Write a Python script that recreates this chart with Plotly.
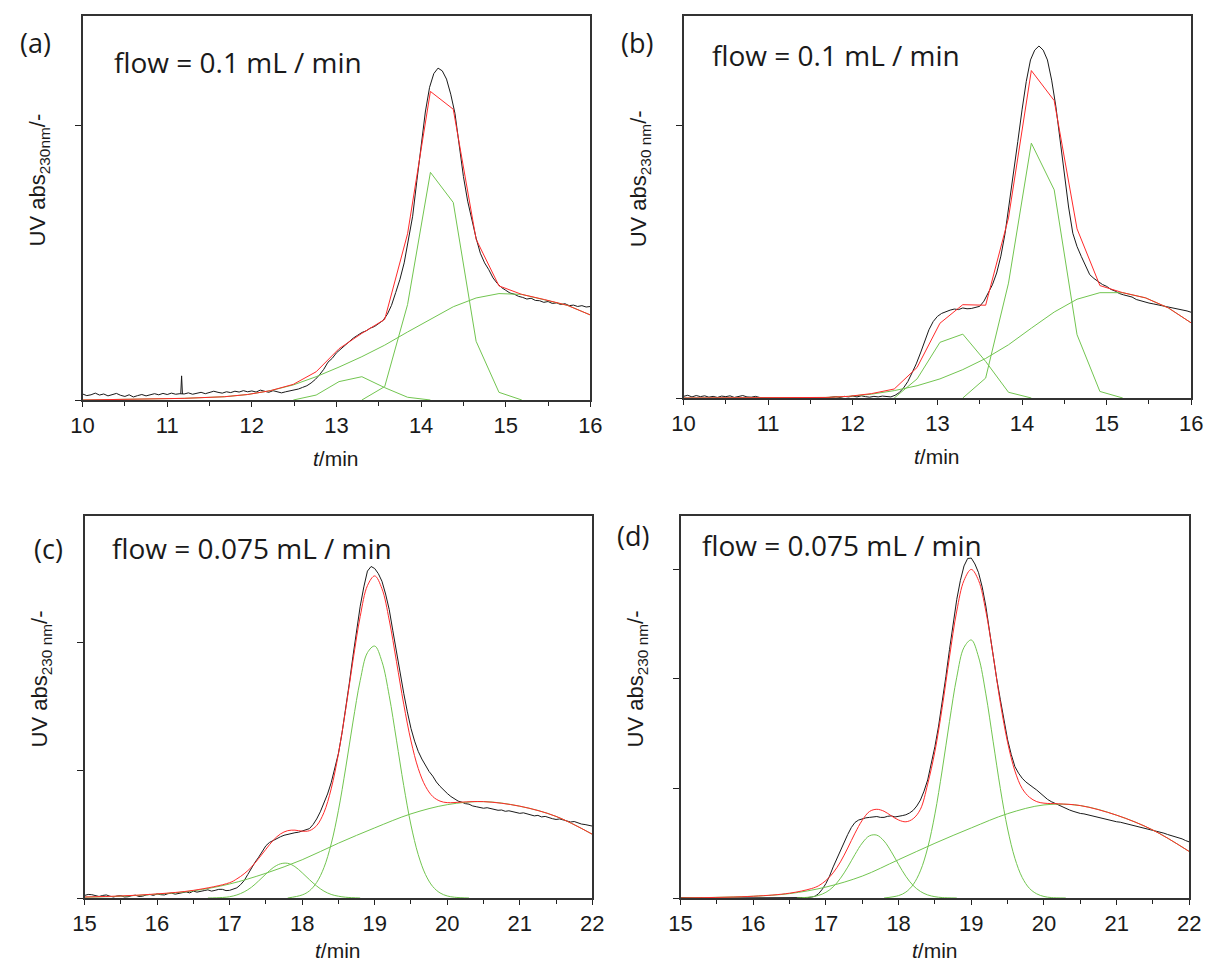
import plotly.graph_objects as go

# ---------------- Panel (a): flow 0.1 mL/min ----------------
a_black_t = [round(10.0 + 0.05 * i, 2) for i in range(121)]
a_black_y = [0.022, 0.016, 0.019, 0.025, 0.018, 0.022, 0.015, 0.020, 0.024, 0.017,
             0.013, 0.019, 0.011, 0.016, 0.020, 0.015, 0.018, 0.023, 0.019, 0.024,
             0.020, 0.025, 0.021, 0.023, 0.022, 0.026, 0.021, 0.025, 0.028, 0.023,
             0.027, 0.032, 0.028, 0.025, 0.030, 0.027, 0.032, 0.029, 0.034, 0.030,
             0.033, 0.029, 0.036, 0.032, 0.028, 0.034, 0.031, 0.026, 0.030, 0.033,
             0.036, 0.040, 0.046, 0.052, 0.062, 0.075, 0.092, 0.112, 0.138, 0.152,
             0.172, 0.185, 0.200, 0.214, 0.226, 0.236, 0.246, 0.252, 0.262, 0.268,
             0.278, 0.290, 0.312, 0.345, 0.392, 0.440, 0.500, 0.578, 0.670, 0.800,
             0.935, 1.050, 1.140, 1.190, 1.210, 1.200, 1.170, 1.115, 1.045, 0.935,
             0.815, 0.725, 0.655, 0.590, 0.535, 0.500, 0.475, 0.445, 0.425, 0.410,
             0.400, 0.390, 0.386, 0.378, 0.374, 0.368, 0.371, 0.363, 0.362, 0.356,
             0.359, 0.352, 0.354, 0.348, 0.351, 0.344, 0.346, 0.341, 0.344, 0.339,
             0.341]
a_spike_t = [11.16, 11.17, 11.18]
a_spike_y = [0.023, 0.088, 0.022]
a_grid_t = [10.0, 10.6, 11.2, 11.68, 11.95, 12.22, 12.49, 12.76, 13.03, 13.30, 13.57, 13.84, 14.11, 14.38,
            14.65, 14.92, 15.19, 15.46, 15.73, 16.0]
a_broad_y = [0.0, 0.002, 0.006, 0.012, 0.020, 0.034, 0.055, 0.085, 0.120, 0.158, 0.200, 0.248, 0.295, 0.340,
             0.372, 0.388, 0.385, 0.366, 0.345, 0.310]
a_fit_y = [0.0, 0.002, 0.006, 0.012, 0.020, 0.034, 0.057, 0.103, 0.187, 0.243, 0.294, 0.606, 1.125, 1.060,
           0.586, 0.416, 0.385, 0.366, 0.345, 0.310]
a_small_t = [12.49, 12.76, 13.03, 13.30, 13.57, 13.84, 14.11]
a_small_y = [0.0, 0.018, 0.067, 0.085, 0.045, 0.010, 0.0]
a_main_t = [13.30, 13.57, 13.84, 14.11, 14.38, 14.65, 14.92, 15.19]
a_main_y = [0.0, 0.049, 0.348, 0.830, 0.720, 0.214, 0.028, 0.0]

# ---------------- Panel (b): flow 0.1 mL/min ----------------
b_black_t = [round(10.0 + 0.05 * i, 2) for i in range(121)]
b_black_y = [0.006, 0.010, 0.004, 0.009, 0.005, 0.008, 0.003, 0.006, 0.002, 0.007,
             0.005, 0.008, 0.002, 0.006, 0.009, 0.004, 0.003, 0.006, 0.002, 0.001,
             0.000, 0.000, 0.000, 0.000, 0.000, 0.000, 0.000, 0.000, 0.000, 0.000,
             0.000, 0.000, 0.000, 0.000, 0.001, 0.003, 0.005, 0.002, 0.006, 0.004,
             0.007, 0.004, 0.008, 0.005, 0.003, 0.006, 0.004, 0.007, 0.005, 0.004,
             0.010, 0.020, 0.037, 0.060, 0.092, 0.125, 0.165, 0.210, 0.250, 0.280,
             0.299, 0.310, 0.317, 0.322, 0.326, 0.324, 0.330, 0.327, 0.328, 0.331,
             0.336, 0.355, 0.385, 0.415, 0.458, 0.520, 0.604, 0.710, 0.824, 0.940,
             1.056, 1.160, 1.239, 1.275, 1.290, 1.275, 1.239, 1.165, 1.068, 0.945,
             0.812, 0.700, 0.604, 0.555, 0.519, 0.482, 0.452, 0.438, 0.427, 0.416,
             0.409, 0.398, 0.392, 0.383, 0.378, 0.374, 0.370, 0.361, 0.356, 0.353,
             0.348, 0.345, 0.342, 0.338, 0.336, 0.333, 0.330, 0.325, 0.322, 0.319,
             0.314]
b_grid_t = [10.0, 11.2, 11.68, 11.95, 12.22, 12.49, 12.76, 13.03, 13.30, 13.57, 13.84, 14.11, 14.38,
            14.65, 14.92, 15.19, 15.46, 15.73, 16.0]
b_broad_y = [0.0, 0.0, 0.002, 0.006, 0.014, 0.027, 0.045, 0.070, 0.104, 0.145, 0.195, 0.256, 0.315,
             0.362, 0.386, 0.386, 0.367, 0.330, 0.275]
b_fit_y = [0.0, 0.0, 0.002, 0.006, 0.016, 0.033, 0.112, 0.274, 0.342, 0.340, 0.660, 1.200, 1.090,
           0.620, 0.412, 0.386, 0.367, 0.330, 0.275]
b_small_t = [12.49, 12.76, 13.03, 13.30, 13.57, 13.84, 14.11]
b_small_y = [0.0, 0.070, 0.204, 0.234, 0.134, 0.021, 0.0]
b_main_t = [13.30, 13.57, 13.84, 14.11, 14.38, 14.65, 14.92, 15.19]
b_main_y = [0.0, 0.073, 0.421, 0.934, 0.763, 0.232, 0.024, 0.0]

# ---------------- Panel (c): flow 0.075 mL/min ----------------
c_black_t = [round(15.0 + 0.05 * i, 2) for i in range(141)]
c_black_y = [0.010, 0.014, 0.013, 0.008, 0.006, 0.010, 0.012, 0.007, 0.004, 0.008,
             0.009, 0.004, 0.005, 0.009, 0.011, 0.006, 0.007, 0.012, 0.014, 0.010,
             0.016, 0.013, 0.012, 0.017, 0.019, 0.015, 0.018, 0.022, 0.024, 0.020,
             0.027, 0.023, 0.025, 0.029, 0.032, 0.027, 0.030, 0.034, 0.034, 0.029,
             0.030, 0.034, 0.040, 0.052, 0.068, 0.092, 0.118, 0.140, 0.160, 0.185,
             0.205, 0.218, 0.226, 0.234, 0.240, 0.246, 0.250, 0.252, 0.256, 0.258,
             0.262, 0.265, 0.272, 0.288, 0.310, 0.338, 0.370, 0.408, 0.452, 0.505,
             0.567, 0.648, 0.738, 0.842, 0.948, 1.050, 1.144, 1.220, 1.282, 1.300,
             1.292, 1.272, 1.242, 1.192, 1.131, 1.048, 0.961, 0.880, 0.803, 0.730,
             0.665, 0.615, 0.575, 0.545, 0.518, 0.496, 0.478, 0.455, 0.438, 0.422,
             0.410, 0.398, 0.390, 0.380, 0.376, 0.370, 0.368, 0.361, 0.358, 0.355,
             0.352, 0.354, 0.350, 0.346, 0.344, 0.345, 0.340, 0.342, 0.338, 0.335,
             0.332, 0.334, 0.330, 0.326, 0.322, 0.324, 0.318, 0.320, 0.314, 0.311,
             0.308, 0.310, 0.306, 0.301, 0.298, 0.300, 0.294, 0.290, 0.288, 0.285,
             0.282]
c_broad_t = [15.0, 15.5, 16.0, 16.5, 17.0, 17.5, 18.0, 18.5, 19.0, 19.5, 20.0, 20.5, 21.0, 21.5, 22.0]
c_broad_y = [0.003, 0.007, 0.015, 0.028, 0.055, 0.097, 0.150, 0.215, 0.275, 0.330, 0.366, 0.378, 0.360, 0.320, 0.250]
c_small_t = [16.7, 16.9, 17.0, 17.1, 17.2, 17.3, 17.4, 17.5, 17.6, 17.7, 17.8, 17.9, 18.0, 18.1,
             18.2, 18.3, 18.4, 18.5, 18.6, 18.8]
c_small_y = [0.0, 0.002, 0.005, 0.012, 0.024, 0.042, 0.067, 0.094, 0.119, 0.134, 0.136, 0.123, 0.099, 0.072,
             0.047, 0.027, 0.014, 0.007, 0.003, 0.0]
c_main_t = [17.8, 18.0, 18.1, 18.2, 18.3, 18.4, 18.5, 18.6, 18.7, 18.8, 18.9, 19.0, 19.1, 19.2, 19.3,
            19.4, 19.5, 19.6, 19.7, 19.8, 19.9, 20.0, 20.1, 20.3]
c_main_y = [0.0, 0.012, 0.028, 0.061, 0.119, 0.212, 0.344, 0.510, 0.690, 0.853, 0.962, 0.988, 0.927, 0.793, 0.619,
            0.441, 0.286, 0.170, 0.092, 0.045, 0.020, 0.008, 0.003, 0.0]
c_fit_t = [15.0, 15.5, 16.0, 16.5, 17.0, 17.1, 17.2, 17.3, 17.4, 17.5, 17.6, 17.7, 17.8, 17.9, 18.0,
           18.1, 18.2, 18.3, 18.4, 18.5, 18.6, 18.7, 18.8, 18.9, 19.0, 19.1, 19.2, 19.3, 19.4, 19.5,
           19.6, 19.7, 19.8, 19.9, 20.0, 20.2, 20.5, 21.0, 21.5, 22.0]
c_fit_y = [0.004, 0.008, 0.016, 0.030, 0.060, 0.075, 0.095, 0.121, 0.155, 0.191, 0.226, 0.251, 0.264, 0.266, 0.262,
           0.264, 0.284, 0.335, 0.428, 0.566, 0.740, 0.930, 1.104, 1.225, 1.263, 1.213, 1.090, 0.927, 0.760, 0.616,
           0.508, 0.438, 0.398, 0.380, 0.374, 0.376, 0.378, 0.360, 0.320, 0.250]

# ---------------- Panel (d): flow 0.075 mL/min ----------------
d_black_t = [round(15.0 + 0.05 * i, 2) for i in range(141)]
d_black_y = [0.002, 0.001, 0.003, 0.002, 0.001, 0.002, 0.003, 0.001, 0.002, 0.000,
             0.000, 0.002, 0.002, 0.001, 0.003, 0.001, 0.001, 0.002, 0.003, 0.001,
             0.002, 0.001, 0.001, 0.002, 0.002, 0.000, 0.000, 0.001, 0.003, 0.002,
             0.001, 0.002, 0.002, 0.001, 0.000, 0.002, 0.004, 0.008, 0.020, 0.040,
             0.066, 0.100, 0.142, 0.180, 0.218, 0.255, 0.290, 0.322, 0.345, 0.356,
             0.362, 0.366, 0.368, 0.371, 0.372, 0.368, 0.368, 0.373, 0.375, 0.370,
             0.372, 0.376, 0.380, 0.388, 0.400, 0.420, 0.447, 0.488, 0.539, 0.610,
             0.692, 0.785, 0.890, 1.010, 1.134, 1.250, 1.363, 1.450, 1.516, 1.550,
             1.552, 1.525, 1.485, 1.420, 1.333, 1.220, 1.104, 1.000, 0.905, 0.810,
             0.722, 0.655, 0.600, 0.570, 0.547, 0.530, 0.516, 0.505, 0.493, 0.478,
             0.463, 0.450, 0.440, 0.432, 0.424, 0.417, 0.410, 0.402, 0.396, 0.390,
             0.386, 0.384, 0.380, 0.374, 0.370, 0.366, 0.362, 0.359, 0.354, 0.352,
             0.348, 0.346, 0.342, 0.337, 0.334, 0.331, 0.326, 0.322, 0.318, 0.315,
             0.310, 0.306, 0.302, 0.296, 0.290, 0.285, 0.280, 0.276, 0.270, 0.262,
             0.256]
d_broad_t = [15.0, 15.5, 16.0, 16.5, 17.0, 17.5, 18.0, 18.5, 19.0, 19.5, 20.0, 20.5, 21.0, 21.5, 22.0]
d_broad_y = [0.0, 0.003, 0.008, 0.020, 0.050, 0.100, 0.175, 0.250, 0.320, 0.385, 0.425, 0.422, 0.378, 0.310, 0.212]
d_small_t = [16.6, 16.8, 16.9, 17.0, 17.1, 17.2, 17.3, 17.4, 17.5, 17.6, 17.7, 17.8, 17.9, 18.0, 18.1,
             18.2, 18.3, 18.4, 18.5, 18.6, 18.8]
d_small_y = [0.0, 0.005, 0.012, 0.026, 0.051, 0.090, 0.141, 0.199, 0.251, 0.284, 0.287, 0.260, 0.211, 0.153, 0.099,
             0.057, 0.030, 0.014, 0.006, 0.002, 0.0]
d_main_t = [17.8, 18.0, 18.1, 18.2, 18.3, 18.4, 18.5, 18.6, 18.7, 18.8, 18.9, 19.0, 19.1, 19.2, 19.3,
            19.4, 19.5, 19.6, 19.7, 19.8, 19.9, 20.0, 20.1, 20.3]
d_main_y = [0.0, 0.011, 0.027, 0.061, 0.124, 0.229, 0.384, 0.584, 0.805, 1.008, 1.144, 1.178, 1.100, 0.932, 0.716,
            0.499, 0.315, 0.181, 0.094, 0.044, 0.019, 0.007, 0.002, 0.0]
d_fit_t = [15.0, 16.0, 16.5, 16.8, 16.9, 17.0, 17.1, 17.2, 17.3, 17.4, 17.5, 17.6, 17.7, 17.8, 17.9,
           18.0, 18.1, 18.2, 18.3, 18.4, 18.5, 18.6, 18.7, 18.8, 18.9, 19.0, 19.1, 19.2, 19.3, 19.4,
           19.5, 19.6, 19.7, 19.8, 19.9, 20.0, 20.2, 20.5, 21.0, 21.5, 22.0]
d_fit_y = [0.0, 0.008, 0.022, 0.043, 0.056, 0.080, 0.115, 0.165, 0.228, 0.296, 0.355, 0.395, 0.405, 0.396, 0.375,
           0.356, 0.348, 0.362, 0.405, 0.520, 0.670, 0.870, 1.100, 1.310, 1.450, 1.500, 1.450, 1.310, 1.110, 0.890,
           0.710, 0.580, 0.500, 0.460, 0.440, 0.433, 0.430, 0.422, 0.378, 0.310, 0.212]

panel_labels = ["(a)", "(b)", "(c)", "(d)"]
flow_labels = ["flow = 0.1 mL / min", "flow = 0.1 mL / min", "flow = 0.075 mL / min", "flow = 0.075 mL / min"]
ytitles = ["UV abs<sub>230nm</sub>/-", "UV abs<sub>230 nm</sub>/-", "UV abs<sub>230 nm</sub>/-", "UV abs<sub>230 nm</sub>/-"]
x_ticks_ab = [10, 11, 12, 13, 14, 15, 16]
x_ticks_cd = [15, 16, 17, 18, 19, 20, 21, 22]

BLACK = "#1a1a1a"
RED = "#ff2a2a"
GREEN = "#72c550"

W, H = 1218, 964
# pixel boxes: left, right, top, bottom
boxes = [(72, 590, 16, 400), (685, 1203, 16, 398), (74, 592, 516, 898), (682, 1201, 516, 898)]
xtitle_off = [58, 58, 52, 52]
flow_pos = [(102, 62), (712, 55), (100, 548), (702, 545)]
label_pos = [(24, 43), (638, 43), (37, 548), (633, 535)]

fig = go.Figure()

panels = [
    dict(black=[(a_black_t, a_black_y), (a_spike_t, a_spike_y)],
         greens=[(a_grid_t, a_broad_y), (a_small_t, a_small_y), (a_main_t, a_main_y)],
         fit=(a_grid_t, a_fit_y), shape="linear", xr=[10, 16], yr=[0, 1.40], yt=[0, 1.0], xt=x_ticks_ab),
    dict(black=[(b_black_t, b_black_y)],
         greens=[(b_grid_t, b_broad_y), (b_small_t, b_small_y), (b_main_t, b_main_y)],
         fit=(b_grid_t, b_fit_y), shape="linear", xr=[10, 16], yr=[0, 1.40], yt=[0, 1.0], xt=x_ticks_ab),
    dict(black=[(c_black_t, c_black_y)],
         greens=[(c_broad_t, c_broad_y), (c_small_t, c_small_y), (c_main_t, c_main_y)],
         fit=(c_fit_t, c_fit_y), shape="spline", xr=[15, 22], yr=[0, 1.498], yt=[0, 0.5, 1.0], xt=x_ticks_cd),
    dict(black=[(d_black_t, d_black_y)],
         greens=[(d_broad_t, d_broad_y), (d_small_t, d_small_y), (d_main_t, d_main_y)],
         fit=(d_fit_t, d_fit_y), shape="spline", xr=[15, 22], yr=[0, 1.744], yt=[0, 0.5, 1.0, 1.5], xt=x_ticks_cd),
]

layout = dict(width=W, height=H, margin=dict(l=0, r=0, t=0, b=0), showlegend=False,
              paper_bgcolor="white", plot_bgcolor="white")
annotations = []

for i, p in enumerate(panels):
    n = i + 1
    xa = "x" if n == 1 else f"x{n}"
    ya = "y" if n == 1 else f"y{n}"
    l, r, t, b = boxes[i]
    for bx, by in p["black"]:
        fig.add_trace(go.Scatter(x=bx, y=by, mode="lines",
                                 line=dict(color=BLACK, width=1), xaxis=xa, yaxis=ya))
    for gx, gy in p["greens"]:
        fig.add_trace(go.Scatter(x=gx, y=gy, mode="lines",
                                 line=dict(color=GREEN, width=1, shape=p["shape"]), xaxis=xa, yaxis=ya))
    fig.add_trace(go.Scatter(x=p["fit"][0], y=p["fit"][1], mode="lines",
                             line=dict(color=RED, width=1, shape=p["shape"]), xaxis=xa, yaxis=ya))

    xkey = "xaxis" if n == 1 else f"xaxis{n}"
    ykey = "yaxis" if n == 1 else f"yaxis{n}"
    layout[xkey] = dict(domain=[l / W, r / W], anchor=ya, range=p["xr"], tickvals=p["xt"],
                        ticks="outside", ticklen=5, tickwidth=1.2, tickcolor="#222",
                        minor=dict(dtick=0.5, ticks="outside", ticklen=4, tickcolor="#222"),
                        showline=True, linecolor="#333", linewidth=1.5, mirror=True,
                        showgrid=False, zeroline=False,
                        tickfont=dict(family="Liberation Sans, Arial", size=22, color="#1a1a1a"))
    layout[ykey] = dict(domain=[(H - b) / H, (H - t) / H], anchor=xa, range=p["yr"], tickvals=p["yt"],
                        ticks="outside", ticklen=6, tickwidth=1.2, tickcolor="#222", showticklabels=False,
                        showline=True, linecolor="#333", linewidth=1.5, mirror=True,
                        showgrid=False, zeroline=False)

    annotations.append(dict(x=(l + r) / 2 / W, y=(H - (b + xtitle_off[i])) / H, xref="paper", yref="paper",
                            text="<i>t</i>/min", showarrow=False, xanchor="center", yanchor="middle",
                            font=dict(family="Liberation Sans, Arial", size=21, color="#1a1a1a")))
    annotations.append(dict(x=(l - 44) / W, y=(H - ((t + b) / 2 - 28)) / H, xref="paper", yref="paper",
                            text=ytitles[i], textangle=-90, showarrow=False, xanchor="center", yanchor="middle",
                            font=dict(family="Liberation Sans, Arial", size=22, color="#1a1a1a")))
    annotations.append(dict(x=label_pos[i][0] / W, y=(H - label_pos[i][1]) / H, xref="paper", yref="paper",
                            text=panel_labels[i], showarrow=False, xanchor="center", yanchor="middle",
                            font=dict(family="Open Sans", size=27, color="#1a1a1a")))
    annotations.append(dict(x=flow_pos[i][0] / W, y=(H - flow_pos[i][1]) / H, xref="paper", yref="paper",
                            text=flow_labels[i], showarrow=False, xanchor="left", yanchor="middle",
                            font=dict(family="Open Sans", size=28, color="#1a1a1a")))

layout["annotations"] = annotations
fig.update_layout(**layout)
fig.write_html("out.html", config={"displayModeBar": False},
               post_script="document.body.style.margin='0';document.body.style.overflow='hidden';")
